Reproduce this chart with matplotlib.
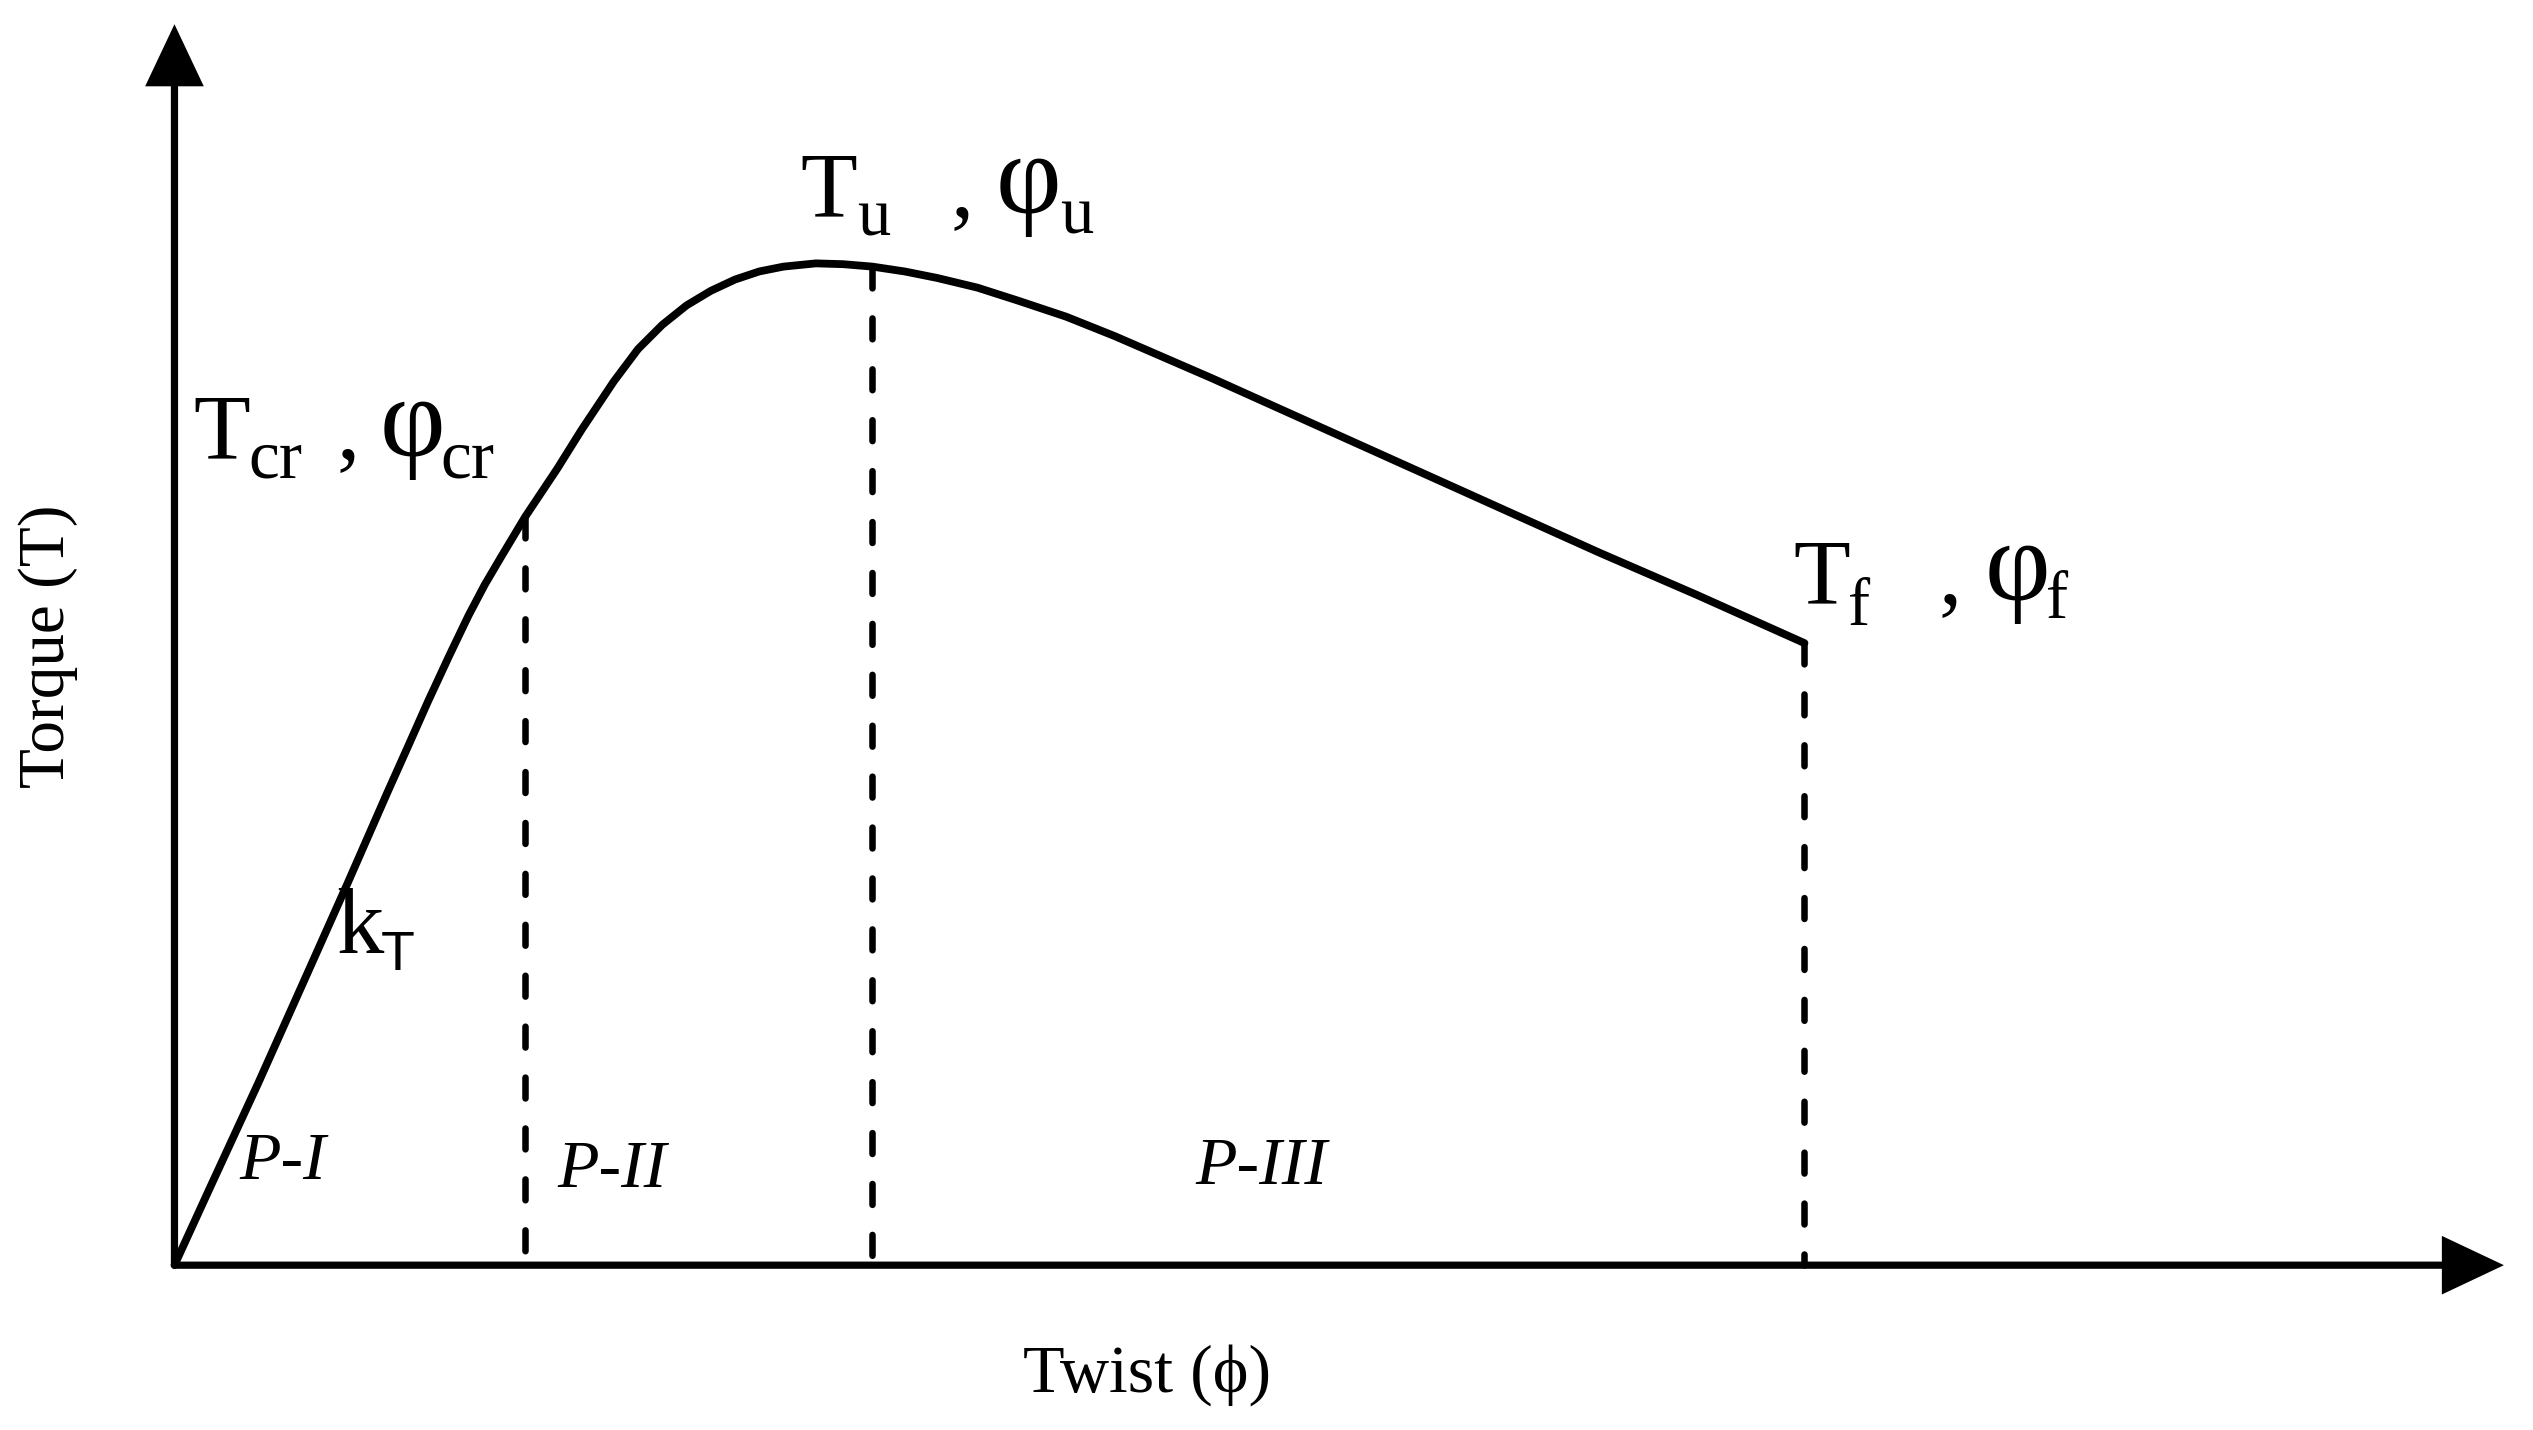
import matplotlib
matplotlib.use("Agg")
import matplotlib.pyplot as plt
from matplotlib.patches import FancyArrowPatch

# ---------------- data (arbitrary units) ----------------
twist = [0.00, 0.22, 0.52, 0.82, 1.07, 1.32, 1.45, 1.57, 1.70, 1.82, 1.92, 2.02, 2.17,
         2.37, 2.52, 2.72, 2.87, 3.02, 3.17, 3.32, 3.47, 3.62, 3.77,
         3.97, 4.14, 4.32, 4.52, 4.72, 4.97, 5.22, 5.52, 5.82,
         6.42, 7.02, 7.62, 8.22, 8.82, 9.42, 10.09]
torque = [0.00, 0.48, 1.13, 1.80, 2.36, 2.93, 3.22, 3.49, 3.77, 4.02, 4.21, 4.38, 4.63,
          4.93, 5.17, 5.47, 5.67, 5.82, 5.94, 6.03, 6.10, 6.15, 6.18,
          6.20, 6.195, 6.18, 6.15, 6.11, 6.05, 5.97, 5.87, 5.75,
          5.49, 5.22, 4.95, 4.68, 4.41, 4.15, 3.85]
# stage boundaries: cracking, ultimate, failure
boundary_twist = [2.17, 4.32, 10.09]
boundary_torque = [4.63, 6.18, 3.85]
stage_labels = ["P-I", "P-II", "P-III"]
x_axis_end = 14.42
y_axis_end = 7.68

W, H = 2533, 1430
DPI = 100
fig = plt.figure(figsize=(W / DPI, H / DPI), dpi=DPI)
ax = fig.add_axes([0, 0, 1, 1])
ax.set_xlim(-1.08, 14.60)
ax.set_ylim(-1.02, 7.83)
ax.axis("off")

SERIF = ["Liberation Serif", "DejaVu Serif"]
SANS = ["Liberation Sans", "DejaVu Sans"]

# axes with arrows
for end in [(x_axis_end, 0), (0, y_axis_end)]:
    arr = FancyArrowPatch((0, 0), end, arrowstyle="-|>,head_length=0.72,head_width=0.34",
                          mutation_scale=50, lw=5.2, color="black",
                          shrinkA=0, shrinkB=0, joinstyle="miter", capstyle="butt")
    ax.add_patch(arr)

# curve
ax.plot(twist, torque, color="black", lw=5.6, solid_joinstyle="round",
        solid_capstyle="round", zorder=3)

# dashed boundaries
for bx, by in zip(boundary_twist, boundary_torque):
    ax.plot([bx, bx], [by, 0], color="black", lw=4.7,
            linestyle=(0, (3.2, 4.6)), dash_capstyle="round", zorder=2)


def ftext(x, y, s, size, family=SERIF, **kw):
    fig.text(x / W, 1 - y / H, s, fontsize=size, family=family,
             ha=kw.pop("ha", "left"), va=kw.pop("va", "baseline"), **kw)


# T_cr , phi_cr
ftext(193, 458, "T", 67)
ftext(248, 478, "cr", 50)
ftext(336, 458, ",", 67)
ftext(380, 456, "φ", 82)
ftext(440, 478, "cr", 50)

# T_u , phi_u
ftext(800, 216, "T", 67)
ftext(857, 236, "u", 48)
ftext(950, 216, ",", 67)
ftext(996, 213, "φ", 82)
ftext(1060, 233, "u", 48)

# T_f , phi_f
ftext(1793, 603, "T", 67)
ftext(1848, 625, "f", 48)
ftext(1938, 603, ",", 67)
ftext(1985, 600, "φ", 82)
ftext(2046, 618, "f", 48)

# k_T
ftext(336, 953, "k", 68)
ftext(381, 970, "T", 40, family=SANS)

# stage labels
for (px, py), lab in zip([(239, 1179), (557, 1187), (1195, 1184)], stage_labels):
    ftext(px, py, lab, 49, style="italic")

# axis titles
ftext(48, 646, "Torque (T)", 47, rotation=90, ha="center", va="center")
ftext(1147, 1392, "Twist (ϕ)", 49, ha="center")

fig.savefig("out.png", dpi=DPI, facecolor="white")
